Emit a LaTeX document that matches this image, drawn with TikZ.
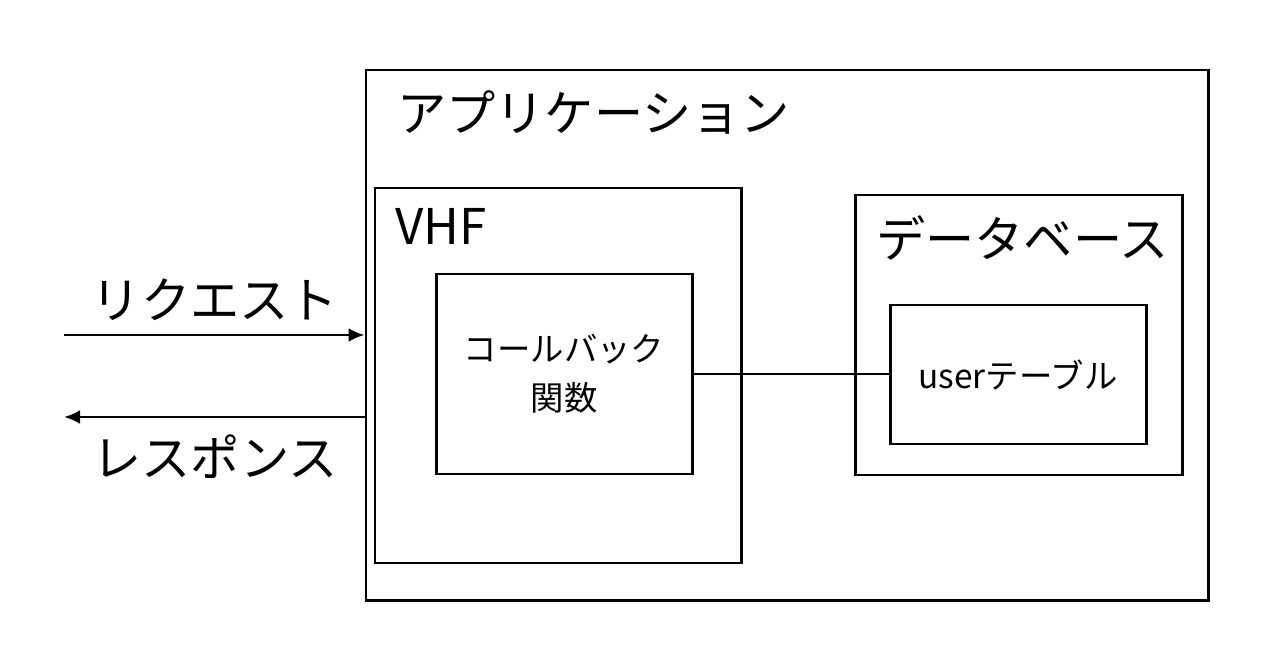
\documentclass[tikz,border=0pt]{standalone}
\usepackage{fontspec}
\setmainfont{Noto Sans CJK JP}
\usetikzlibrary{positioning,calc,arrows.meta}

\begin{document}
\begin{tikzpicture}
[>={Latex[length=3.2mm,width=2.8mm]},box/.style = {draw, rectangle, line width=1.7pt, inner sep=0pt},
 big/.style = {font=\fontsize{28}{32}\selectfont, inner sep=0pt},
 small/.style = {font=\fontsize{19}{28}\selectfont, inner sep=0pt, align=center},]
\useasboundingbox (0,0) rectangle (25.52,-13.28);
\node (app) at (15.74,-6.70)[box,minimum width=16.84cm,minimum height=10.6cm] {};
\node (vhf) at (11.16,-7.51)[box,minimum width=7.32cm,minimum height=7.5cm] {};
\node (cb) at (11.28,-7.48)[box,minimum width=5.12cm,minimum height=4.0cm] {};
\node (db) at (20.37,-6.70)[box,minimum width=6.54cm,minimum height=5.6cm] {};
\node (tbl) at (20.36,-7.49)[box,minimum width=5.12cm,minimum height=2.78cm] {};
\node (appname) at (7.94,-2.24)[big,anchor=west] {アプリケーション};
\node (vhfname) at (7.90,-4.52)[big,anchor=west] {VHF};
\node (dbname) at (17.52,-4.76)[big,anchor=west] {データベース};
\node (cbname) at (cb.center)[small] {コールバック\\関数};
\node (tblname) at (tbl.center)[small] {userテーブル};
\node (reqname) at (4.30,-6.0)[big] {リクエスト};
\node (resname) at (4.30,-9.14)[big] {レスポンス};
\coordinate (req) at (1.28,-6.70);
\coordinate (res) at (1.28,-8.34);
\draw [->,line width=1.6pt] (req) -- (req -| app.west);
\draw [->,line width=1.6pt] (res -| app.west) -- (res);
\draw [line width=1.1pt] (cb.east) -- (cb.east -| tbl.west);
\end{tikzpicture}
\end{document}
